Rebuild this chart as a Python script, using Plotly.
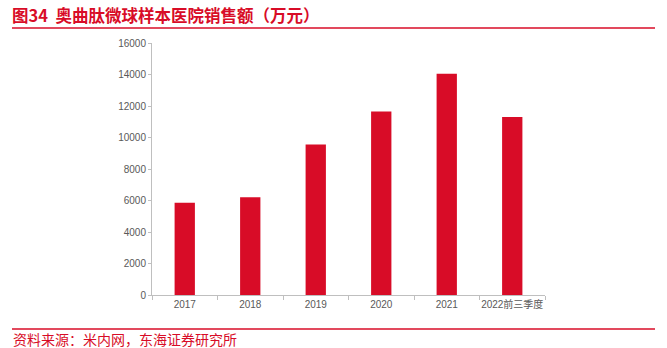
import plotly.graph_objects as go

categories = ["2017", "2018", "2019", "2020", "2021", "2022前三季度"]
sales = [5850, 6200, 9550, 11650, 14050, 11300]
y_ticks = [0, 2000, 4000, 6000, 8000, 10000, 12000, 14000, 16000]

RED = "#D80C27"
L, R, T, B = 152, 122, 43, 53
W, H = 667, 348
pw = W - L - R
ph = H - T - B

def px_x(x):
    return (x - L) / pw

def px_y(y):
    return (H - B - y) / ph

fig = go.Figure(go.Bar(
    x=categories, y=sales, marker_color=RED, width=0.31,
    marker_line_width=0,
))

fig.update_layout(
    width=W, height=H,
    margin=dict(l=L, r=R, t=T, b=B),
    plot_bgcolor="white", paper_bgcolor="white",
    showlegend=False,
    font=dict(family="Liberation Sans, Arial, sans-serif", size=10, color="#595959"),
)
fig.update_xaxes(
    showline=True, linecolor="#BFBFBF", linewidth=1,
    ticks="outside", tickson="boundaries", ticklen=4, tickcolor="#BFBFBF",
    tickangle=0, automargin=False,
    showgrid=False, tickfont=dict(family="Liberation Sans, Noto Sans CJK SC", size=10, color="#595959"),
)
fig.update_yaxes(
    range=[0, 16000], tickvals=y_ticks, tickformat="d",
    showline=True, linecolor="#BFBFBF", linewidth=1,
    ticks="outside", ticklen=3, tickcolor="#BFBFBF",
    showgrid=False, zeroline=False, automargin=False,
    tickfont=dict(size=10, color="#595959"),
)

fig.add_annotation(
    text="<b>图34  奥曲肽微球样本医院销售额（万元）</b>",
    xref="paper", yref="paper", x=px_x(10), y=px_y(15),
    xanchor="left", yanchor="middle", showarrow=False,
    font=dict(family="Noto Sans CJK SC", size=16.5, color=RED),
)
fig.add_annotation(
    text="资料来源：米内网，东海证券研究所",
    xref="paper", yref="paper", x=px_x(11), y=px_y(338.5),
    xanchor="left", yanchor="middle", showarrow=False,
    font=dict(family="Noto Sans CJK SC", size=14, color=RED),
)
for yy in (28, 329):
    fig.add_shape(
        type="line", xref="paper", yref="paper",
        x0=px_x(12), x1=px_x(655), y0=px_y(yy), y1=px_y(yy),
        line=dict(color=RED, width=1.5),
    )

fig.write_html("out.html")
